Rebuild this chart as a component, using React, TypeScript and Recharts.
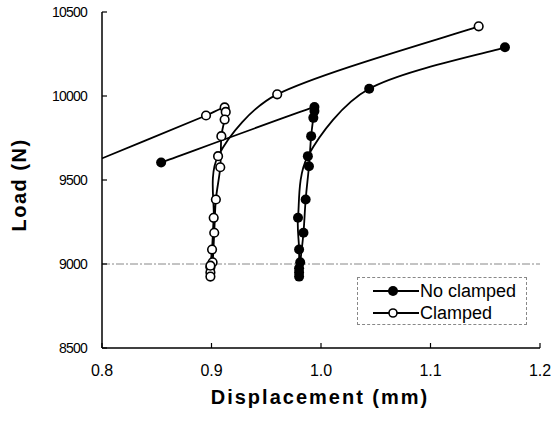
import { LineChart, Line, XAxis, YAxis, ReferenceLine, Legend } from 'recharts'

const FONT = '"Liberation Sans", Arial, sans-serif'

const xTicks = [0.8, 0.9, 1.0, 1.1, 1.2]
const yTicks = [8500, 9000, 9500, 10000, 10500]

// "No clamped" in loading order (load, unload, reload)
const noClampedDisp = [0.854, 0.994, 0.994, 0.993, 0.991, 0.989, 0.986, 0.984, 0.981, 0.98, 0.98, 0.98, 0.98, 0.979, 0.988, 1.044, 1.168]
const noClampedLoad = [9604, 9935, 9910, 9870, 9761, 9582, 9384, 9186, 9010, 8975, 8950, 8925, 9086, 9275, 9642, 10043, 10290]

// "Clamped", first point sits left of the axis and is clipped
const clampedDisp = [0.78, 0.895, 0.912, 0.913, 0.912, 0.909, 0.908, 0.904, 0.9025, 0.901, 0.899, 0.899, 0.899, 0.899, 0.9005, 0.902, 0.906, 0.96, 1.144]
const clampedLoad = [9575, 9884, 9932, 9905, 9860, 9761, 9576, 9384, 9186, 9010, 8980, 8950, 8925, 8990, 9086, 9275, 9642, 10010, 10415]

const noClamped = noClampedDisp.map((x, i) => ({ x, y: noClampedLoad[i] }))
const clamped = clampedDisp.map((x, i) => ({ x, y: clampedLoad[i] }))

const legendItems = [
  { name: 'No clamped', filled: true },
  { name: 'Clamped', filled: false },
]

// smoothed line like the spreadsheet one: cardinal bezier, control arms capped so tight clusters don't loop
const smoothCurve = (context: any) => {
  let pts: number[][] = []
  return {
    areaStart() {},
    areaEnd() {},
    lineStart() {
      pts = []
    },
    point(x: number, y: number) {
      pts.push([+x, +y])
    },
    lineEnd() {
      const n = pts.length
      if (!n) return
      context.moveTo(pts[0][0], pts[0][1])
      const tan = pts.map((p, i) => {
        const a = pts[Math.max(i - 1, 0)]
        const b = pts[Math.min(i + 1, n - 1)]
        return [(b[0] - a[0]) / 6, (b[1] - a[1]) / 6]
      })
      const cap = (t: number[], d: number) => {
        const len = Math.hypot(t[0], t[1])
        const k = len > d / 3 && len > 0 ? d / 3 / len : 1
        return [t[0] * k, t[1] * k]
      }
      for (let i = 0; i < n - 1; i++) {
        const p1 = pts[i]
        const p2 = pts[i + 1]
        const d = Math.hypot(p2[0] - p1[0], p2[1] - p1[1])
        const t1 = cap(tan[i], d)
        const t2 = cap(tan[i + 1], d)
        context.bezierCurveTo(p1[0] + t1[0], p1[1] + t1[1], p2[0] - t2[0], p2[1] - t2[1], p2[0], p2[1])
      }
    },
  }
}

function FilledDot(props: any) {
  const { cx, cy, payload, index } = props
  if (payload.x < 0.8) return <g key={`nf-${index}`} />
  return <circle key={`nf-${index}`} cx={cx} cy={cy} r={5} fill="#000" />
}

function OpenDot(props: any) {
  const { cx, cy, payload, index } = props
  if (payload.x < 0.8) return <g key={`op-${index}`} />
  return <circle key={`op-${index}`} cx={cx} cy={cy} r={4.3} fill="#fff" stroke="#000" strokeWidth={1.6} />
}

function renderLegend() {
  return (
    <div
      style={{
        width: 170,
        height: 48,
        boxSizing: 'border-box',
        border: '1px dashed #888',
        paddingTop: 2,
        fontFamily: FONT,
        fontSize: 18,
        color: '#000',
      }}
    >
      {legendItems.map(item => (
        <div key={item.name} style={{ display: 'flex', alignItems: 'center', height: 22, marginLeft: 15 }}>
          <svg width={46} height={14} style={{ marginRight: 1 }}>
            <line x1={0} y1={7} x2={46} y2={7} stroke="#000" strokeWidth={1.8} />
            {item.filled ? (
              <circle cx={20} cy={7} r={5} fill="#000" />
            ) : (
              <circle cx={20} cy={7} r={4} fill="#fff" stroke="#000" strokeWidth={1.6} />
            )}
          </svg>
          <span>{item.name}</span>
        </div>
      ))}
    </div>
  )
}

export default function App() {
  return (
    <div style={{ width: 552, height: 423, background: '#fff' }}>
      <style>{'body{margin:0}'}</style>
      <LineChart width={552} height={423} margin={{ top: 12, right: 12, left: 0, bottom: 0 }}>
        <XAxis
          dataKey="x"
          type="number"
          domain={[0.8, 1.2]}
          ticks={xTicks}
          allowDataOverflow
          tickFormatter={(v: number) => v.toFixed(1)}
          height={75}
          tickSize={-5}
          tickMargin={22}
          axisLine={{ stroke: '#000', strokeWidth: 1.5 }}
          tickLine={{ stroke: '#000', strokeWidth: 1.2 }}
          tick={{ fill: '#000', fontSize: 16, fontFamily: FONT }}
          label={{
            content: () => (
              <text x={320} y={404} textAnchor="middle" fontFamily={FONT} fontSize={20} fontWeight="bold" letterSpacing={2} fill="#000">
                Displacement (mm)
              </text>
            ),
          }}
        />
        <XAxis xAxisId="top" orientation="top" type="number" domain={[0.8, 1.2]} height={0} tick={false} tickLine={false} axisLine={{ stroke: '#000', strokeWidth: 1.5 }} />
        <YAxis
          type="number"
          domain={[8500, 10500]}
          ticks={yTicks}
          allowDataOverflow
          width={102}
          tickSize={-5}
          tickMargin={20}
          axisLine={{ stroke: '#000', strokeWidth: 1.5 }}
          tickLine={{ stroke: '#000', strokeWidth: 1.2 }}
          tick={{ fill: '#000', fontSize: 14, fontFamily: FONT, letterSpacing: -0.8 }}
          label={{
            content: () => (
              <text x={26} y={185} transform="rotate(-90 26 185)" textAnchor="middle" fontFamily={FONT} fontSize={20} fontWeight="bold" letterSpacing={1.5} fill="#000">
                Load (N)
              </text>
            ),
          }}
        />
        <YAxis yAxisId="right" orientation="right" type="number" domain={[8500, 10500]} width={0} tick={false} tickLine={false} axisLine={{ stroke: '#000', strokeWidth: 1.5 }} />
        <ReferenceLine y={9000} stroke="#888" strokeWidth={1} strokeDasharray="8 2 2 2" />
        <Line
          data={noClamped}
          dataKey="y"
          name="No clamped"
          type={smoothCurve as any}
          stroke="#000"
          strokeWidth={1.8}
          dot={FilledDot}
          activeDot={false}
          isAnimationActive={false}
        />
        <Line
          data={clamped}
          dataKey="y"
          name="Clamped"
          type={smoothCurve as any}
          stroke="#000"
          strokeWidth={1.8}
          dot={OpenDot}
          activeDot={false}
          isAnimationActive={false}
        />
        <Legend
          layout="horizontal"
          align="center"
          verticalAlign="middle"
          wrapperStyle={{ position: 'absolute', left: 357, top: 277, width: 170, height: 48 }}
          content={renderLegend}
        />
      </LineChart>
    </div>
  )
}
